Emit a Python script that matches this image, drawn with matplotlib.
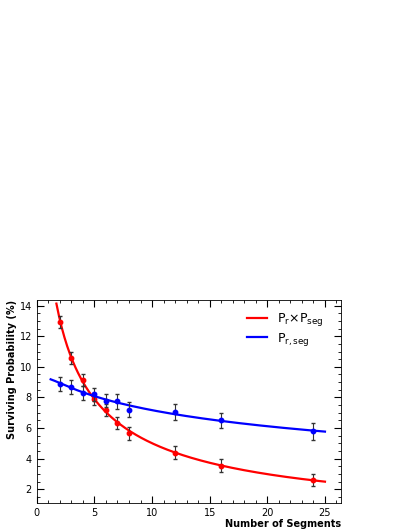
import numpy as np
import matplotlib
matplotlib.use("Agg")
import matplotlib.pyplot as plt
from matplotlib.ticker import MultipleLocator

# ---- data ----------------------------------------------------------------
nseg = [2, 3, 4, 5, 6, 7, 8, 12, 16, 24]
prod_vals = [12.95, 10.6, 9.15, 7.9, 7.2, 6.35, 5.65, 4.4, 3.55, 2.6]
prod_errs = [0.4, 0.4, 0.4, 0.4, 0.4, 0.4, 0.4, 0.4, 0.4, 0.4]
joint_vals = [8.9, 8.7, 8.3, 8.2, 7.8, 7.75, 7.2, 7.05, 6.5, 5.8]
joint_errs = [0.45, 0.45, 0.45, 0.45, 0.45, 0.5, 0.5, 0.5, 0.5, 0.55]
prod_fit_range = (1.7, 25)
joint_fit_range = (1.2, 25)

fig = plt.figure(figsize=(4.09, 5.29), dpi=100)
ax = fig.add_axes([0.09, 0.049, 0.744, 0.384])

def fit_curve(x, y, lo, hi):
    c = np.polyfit(np.log(x), np.log(y), 2)
    xx = np.linspace(lo, hi, 200)
    return xx, np.exp(np.polyval(c, np.log(xx)))

for vals, errs, col, rng, lbl in [
        (prod_vals, prod_errs, "#ff0000", prod_fit_range, r"P$_{\mathrm{r}}$$\times$P$_{\mathrm{seg}}$"),
        (joint_vals, joint_errs, "#0000ff", joint_fit_range, r"P$_{\mathrm{r,seg}}$")]:
    xx, yy = fit_curve(nseg, vals, *rng)
    ax.plot(xx, yy, color=col, lw=1.6, label=lbl)
    ax.errorbar(nseg, vals, yerr=errs, fmt="none", ecolor="#333333", elinewidth=0.8, capsize=1.5)
    ax.plot(nseg, vals, "o", color=col, ms=3.2)

ax.set_xlim(0, 26.4)
ax.set_ylim(1.1, 14.37)
ax.xaxis.set_major_locator(MultipleLocator(5))
ax.xaxis.set_minor_locator(MultipleLocator(1))
ax.yaxis.set_major_locator(MultipleLocator(2))
ax.yaxis.set_minor_locator(MultipleLocator(0.5))
ax.tick_params(which="both", direction="in", top=True, right=True, labelsize=7)
ax.tick_params(which="major", length=5)
ax.tick_params(which="minor", length=2.5)
for s in ax.spines.values():
    s.set_linewidth(0.6)
ax.set_xlabel("Number of Segments", fontsize=7, fontweight="bold", loc="right", labelpad=1)
ax.set_ylabel("Surviving Probability (%)", fontsize=7, fontweight="bold", loc="top", labelpad=2)
ax.legend(loc="upper right", frameon=False, fontsize=9, handlelength=1.6,
          bbox_to_anchor=(0.98, 1.0), labelspacing=0.2)
fig.savefig("out.png", dpi=100)
